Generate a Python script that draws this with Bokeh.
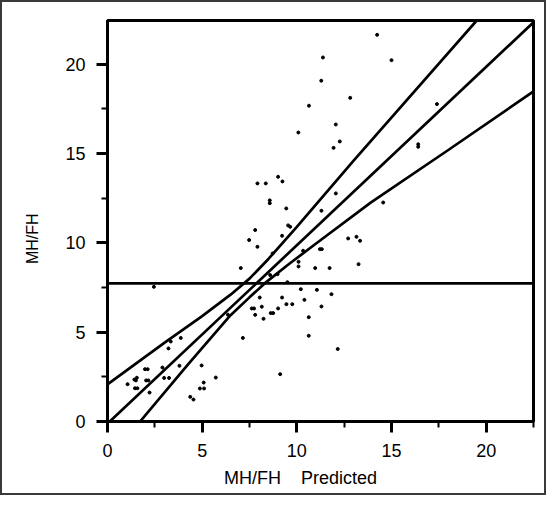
from bokeh.plotting import figure
from bokeh.models import Range1d, SingleIntervalTicker
from bokeh.embed import file_html
from bokeh.resources import INLINE

# ---- data ----
pred_x = [2.45, 3.34, 3.87, 3.22, 2.90, 3.80, 4.97, 1.98, 2.12, 2.04, 2.16,
          1.55, 1.42, 1.50, 1.06, 1.45, 1.58, 2.22, 2.99, 3.25, 5.72, 5.08,
          4.88, 5.10, 4.37, 4.54, 7.15, 6.36, 7.04,
          8.04, 7.62, 7.74, 8.15, 7.80, 8.24, 8.62, 8.75, 9.01, 9.22, 9.45,
          9.76, 10.21, 11.06, 11.83, 10.40, 11.30, 10.63, 10.63, 12.16, 9.12,
          9.50,
          7.92, 8.36, 9.01, 9.24, 8.57, 8.57, 9.44, 7.80, 7.48, 7.92, 9.54,
          9.65, 9.22, 8.72, 10.33, 11.22, 11.32, 12.06, 11.30, 12.71, 13.15,
          13.34, 13.26, 10.09, 10.09, 10.97, 11.73, 8.59, 8.98,
          14.24, 15.00, 12.82, 12.06, 12.27, 11.94, 17.40, 16.41, 16.41,
          11.38, 11.29, 10.64, 10.08, 14.56]
actual_y = [7.54, 4.48, 4.68, 4.09, 3.02, 3.12, 3.14, 2.93, 2.93, 2.30, 2.30,
            2.45, 2.35, 2.30, 2.09, 1.86, 1.86, 1.62, 2.44, 2.44, 2.46, 2.18,
            1.85, 1.85, 1.38, 1.23, 4.68, 5.98, 8.59,
            6.94, 6.33, 6.33, 6.43, 5.97, 5.75, 6.07, 6.07, 6.33, 6.94, 6.57,
            6.57, 7.41, 7.37, 7.13, 6.81, 6.44, 5.84, 4.80, 4.06, 2.65,
            7.80,
            13.33, 13.33, 13.70, 13.44, 12.22, 12.38, 11.93, 10.72, 10.16, 9.78, 10.98,
            10.90, 10.40, 9.41, 9.56, 9.65, 9.65, 12.77, 11.80, 10.25, 10.34,
            10.12, 8.81, 8.94, 8.68, 8.59, 8.59, 8.20, 8.25,
            21.65, 20.23, 18.12, 16.63, 15.68, 15.32, 17.77, 15.38, 15.52,
            20.38, 19.08, 17.68, 16.18, 12.26]

fit_x = [0.12, 22.5]
fit_y = [0.0, 22.35]

upper_x = [0.0, 3.0, 5.0, 6.5, 7.5, 8.5, 10.0, 13.0, 19.5]
upper_y = [2.08, 4.40, 5.90, 7.10, 8.00, 9.10, 10.90, 14.60, 22.45]

lower_x = [1.72, 4.30, 6.50, 7.50, 8.30, 9.50, 11.00, 13.90, 18.00, 22.50]
lower_y = [0.00, 3.25, 5.95, 6.95, 7.73, 8.75, 9.95, 12.25, 15.20, 18.48]

mean_y = 7.73
x_limits = [0, 22.5]

x_title = "MH/FH\u00a0\u00a0\u00a0\u00a0Predicted" + "\u00a0" * 8
y_title = "MH/FH" + "\u00a0" * 8

FONT = "Liberation Sans"

p = figure(width=546, height=495, output_backend="svg", toolbar_location=None,
           x_range=Range1d(0, 22.5), y_range=Range1d(0, 22.45),
           min_border_left=105, min_border_right=15, min_border_top=18,
           min_border_bottom=76,
           styles={"border": "2px solid #3a3a3a"})

p.grid.visible = False
p.background_fill_color = "white"
p.border_fill_color = "white"
p.outline_line_color = "black"
p.outline_line_width = 3
p.outline_line_alpha = 1.0

for ax in (p.xaxis[0], p.yaxis[0]):
    ax.ticker = SingleIntervalTicker(interval=5, num_minor_ticks=2)
    ax.axis_line_color = "black"
    ax.axis_line_width = 3
    ax.major_tick_line_color = "black"
    ax.major_tick_line_width = 3
    ax.major_tick_out = 11
    ax.major_tick_in = 0
    ax.minor_tick_line_color = "black"
    ax.minor_tick_line_width = 2
    ax.minor_tick_out = 6
    ax.minor_tick_in = 0
    ax.major_label_text_font = FONT
    ax.major_label_text_font_size = "18px"
    ax.major_label_text_color = "black"
    ax.major_label_standoff = 11
    ax.axis_label_text_font = FONT
    ax.axis_label_text_font_style = "normal"
    ax.axis_label_text_color = "black"

p.xaxis[0].axis_label = x_title
p.xaxis[0].axis_label_text_font_size = "18px"
p.xaxis[0].axis_label_standoff = 8
p.yaxis[0].axis_label = y_title
p.yaxis[0].axis_label_text_font_size = "16px"
p.yaxis[0].axis_label_standoff = 21

# reference lines
p.line(x_limits, [mean_y, mean_y], line_color="black", line_width=2.7)
p.line(fit_x, fit_y, line_color="black", line_width=2.7)
p.line(upper_x, upper_y, line_color="black", line_width=2.7)
p.line(lower_x, lower_y, line_color="black", line_width=2.7)

# points
p.scatter(pred_x, actual_y, marker="circle", size=3, color="black")

open("out.html", "w").write(file_html(p, INLINE))
